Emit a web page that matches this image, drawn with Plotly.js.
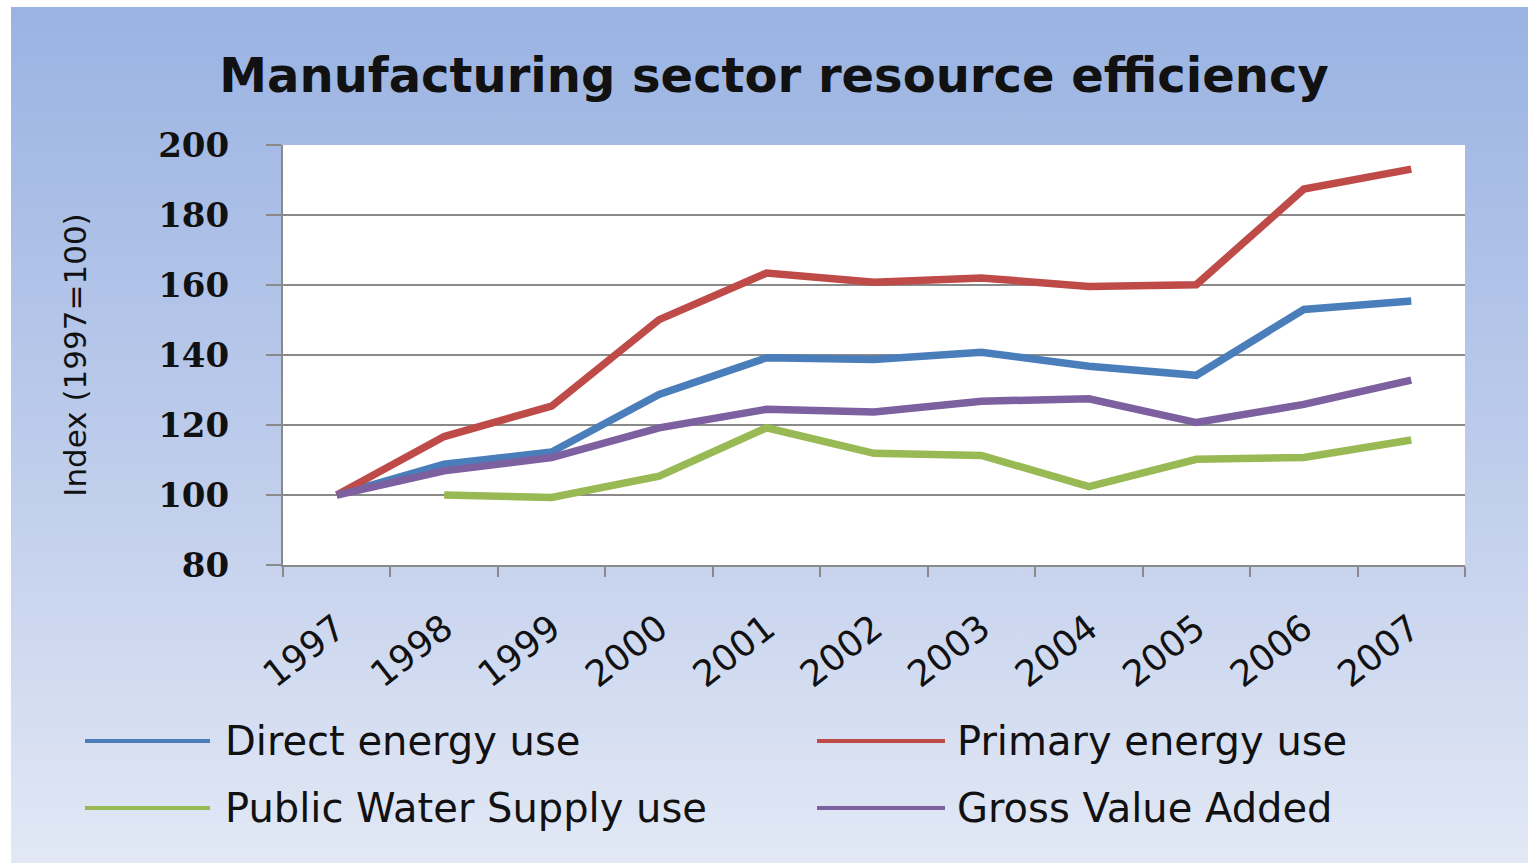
<!DOCTYPE html>
<html>
<head>
<meta charset="utf-8">
<script src="https://cdn.plot.ly/plotly-3.0.1.min.js"></script>
<style>
  html, body { margin: 0; padding: 0; background: #ffffff; }
  #bg { position: absolute; left: 11px; top: 7px; width: 1517px; height: 856px;
        background: linear-gradient(to bottom, #9ab3e2 0%, #bccbeb 50%, #e2e8f5 100%); }
  #chart { position: absolute; left: 0; top: 0; width: 1528px; height: 863px; }
</style>
</head>
<body>
<div id="bg"></div>
<div id="chart"></div>
<script>
// ---- Data ----
const years = ['1997', '1998', '1999', '2000', '2001', '2002', '2003', '2004', '2005', '2006', '2007'];
const seriesNames = ['Direct energy use', 'Primary energy use', 'Public Water Supply use', 'Gross Value Added'];
const directEnergy = [100, 108.8, 112.3, 128.7, 139.2, 138.7, 140.8, 136.8, 134.2, 153.0, 155.4];
const primaryEnergy = [100, 116.7, 125.4, 150.1, 163.4, 160.8, 162.0, 159.6, 160.1, 187.4, 193.1];
const publicWater = [null, 100, 99.3, 105.4, 119.2, 111.9, 111.3, 102.4, 110.2, 110.7, 115.7];
const grossValueAdded = [100, 106.9, 110.7, 119.2, 124.5, 123.7, 126.8, 127.5, 120.7, 125.9, 132.8];
const yTicks = [80, 100, 120, 140, 160, 180, 200];

// ---- Styling ----
const colors = ['#4a7ebb', '#be4b48', '#98b954', '#7d60a0'];
const values = [directEnergy, primaryEnergy, publicWater, grossValueAdded];
const W = 1528, H = 863;
const M = { l: 283, r: 63, t: 145, b: 298 };
const pw = W - M.l - M.r, ph = H - M.t - M.b;
const px2x = (px) => (px - M.l) / pw;
const py2y = (py) => (H - M.b - py) / ph;

const traces = values.map((v, i) => ({
  type: 'scatter', mode: 'lines', x: years, y: v, name: seriesNames[i],
  line: { color: colors[i], width: 7.5 }, connectgaps: false, showlegend: false
}));

// manual legend (two columns, two rows) to match long legend keys
const legendPos = [
  { lx0: 85, lx1: 210, tx: 223, y: 741 },
  { lx0: 817, lx1: 945, tx: 955, y: 741 },
  { lx0: 85, lx1: 210, tx: 223, y: 808 },
  { lx0: 817, lx1: 945, tx: 955, y: 808 }
];
const shapes = legendPos.map((p, i) => ({
  type: 'line', xref: 'paper', yref: 'paper',
  x0: px2x(p.lx0), x1: px2x(p.lx1), y0: py2y(p.y), y1: py2y(p.y),
  line: { color: colors[i], width: 4 }
}));
const annotations = legendPos.map((p, i) => ({
  xref: 'paper', yref: 'paper', x: px2x(p.tx), y: py2y(p.y),
  xanchor: 'left', yanchor: 'middle', showarrow: false, text: seriesNames[i],
  font: { family: 'DejaVu Sans', size: 40, color: '#111111' }
}));

const gridCol = '#8a8a8a';
const layout = {
  width: W, height: H,
  margin: M,
  paper_bgcolor: 'rgba(0,0,0,0)',
  plot_bgcolor: '#ffffff',
  showlegend: false,
  title: {
    text: 'Manufacturing sector resource efficiency',
    x: 774 / W, xref: 'container', xanchor: 'center',
    y: 1 - 75 / H, yref: 'container', yanchor: 'middle',
    font: { family: 'DejaVu Sans', size: 48, color: '#111111', weight: 'bold' }
  },
  xaxis: {
    type: 'category', range: [-0.5, years.length - 0.5],
    tickson: 'boundaries', ticks: 'outside', ticklen: 10, tickwidth: 2, tickcolor: gridCol,
    showline: true, linecolor: gridCol, linewidth: 2, showgrid: false,
    tickangle: -38, ticklabelstandoff: 26,
    tickfont: { family: 'DejaVu Sans', size: 36, color: '#111111' },
    fixedrange: true
  },
  yaxis: {
    range: [80, 200], tickvals: yTicks, ticktext: yTicks.map(String),
    ticks: 'outside', ticklen: 15, tickwidth: 2, tickcolor: gridCol,
    showline: true, linecolor: gridCol, linewidth: 2,
    showgrid: true, gridcolor: gridCol, gridwidth: 2, zeroline: false,
    ticklabelstandoff: 30,
    tickfont: { family: 'DejaVu Serif', size: 34, color: '#111111', weight: 'bold' },
    title: { text: 'Index (1997=100)', standoff: 62,
             font: { family: 'DejaVu Sans', size: 31, color: '#111111' } },
    fixedrange: true
  },
  shapes: shapes,
  annotations: annotations
};

Plotly.newPlot('chart', traces, layout, { displayModeBar: false, staticPlot: true });
</script>
</body>
</html>
